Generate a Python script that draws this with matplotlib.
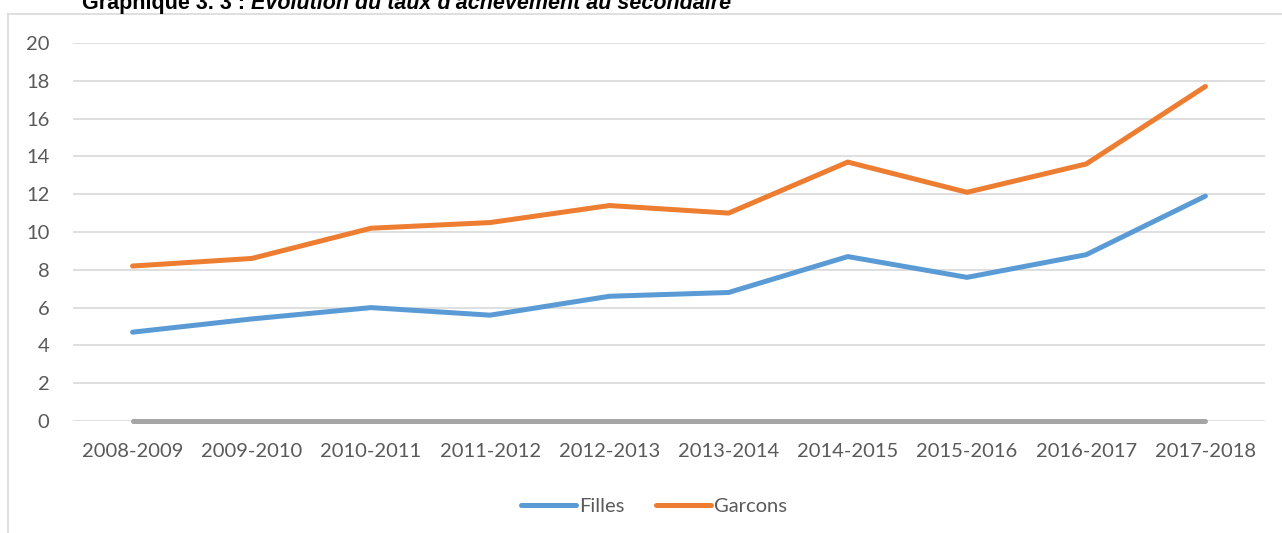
import matplotlib.pyplot as plt
from matplotlib.lines import Line2D

annees = ['2008-2009', '2009-2010', '2010-2011', '2011-2012', '2012-2013',
          '2013-2014', '2014-2015', '2015-2016', '2016-2017', '2017-2018']
filles = [4.7, 5.4, 6.0, 5.6, 6.6, 6.8, 8.7, 7.6, 8.8, 11.9]
garcons = [8.2, 8.6, 10.2, 10.5, 11.4, 11.0, 13.7, 12.1, 13.6, 17.7]
zero = [0] * len(annees)

W, H = 1282, 533
fig = plt.figure(figsize=(W / 100, H / 100), dpi=100)
ax = fig.add_axes([73 / W, 1 - 421 / H, (1265 - 73) / W, (421 - 43) / H])

x = range(len(annees))
ax.plot(x, zero, color='#a5a5a5', lw=3.6, solid_capstyle='round', zorder=2, clip_on=False)
ax.plot(x, filles, color='#5b9bd5', lw=3.6, solid_capstyle='round', label='Filles', zorder=3)
ax.plot(x, garcons, color='#ed7d31', lw=3.6, solid_capstyle='round', label='Garcons', zorder=3)

ax.set_xlim(-0.5, len(annees) - 0.5)
ax.set_ylim(0, 20)
ax.set_yticks(range(0, 21, 2))
ax.set_xticks(list(x))
ax.set_xticklabels(annees)
ax.grid(axis='y', color='#d9d9d9', lw=1.2)
ax.set_axisbelow(True)
for s in ax.spines.values():
    s.set_visible(False)
ax.tick_params(length=0, labelsize=14.5, colors='#595959')
ax.tick_params(axis='x', pad=16)
ax.tick_params(axis='y', pad=17)
for lab in ax.get_xticklabels() + ax.get_yticklabels():
    lab.set_fontfamily('Lato')

leg = fig.legend(loc='center', bbox_to_anchor=(654 / W, 1 - 506 / H), ncol=2, frameon=False,
                 handlelength=2.7, columnspacing=1.6, handletextpad=0.15,
                 prop={'family': 'Lato', 'size': 14.5})
for t in leg.get_texts():
    t.set_color('#595959')

# cadre du graphique
fig.add_artist(Line2D([8 / W, 8 / W], [0, 1 - 14 / H], color='#d9d9d9', lw=1.2))
fig.add_artist(Line2D([8 / W, 1], [1 - 14 / H, 1 - 14 / H], color='#d9d9d9', lw=1.2))

# titre coupé en haut
t1 = fig.text(82 / W, 1 - 9 / H, 'Graphique 3. 3 : ', fontsize=15.5, fontweight='bold',
              family='Liberation Sans', va='baseline')
fig.canvas.draw()
bb = t1.get_window_extent()
fig.text(bb.x1 / W, 1 - 9 / H, "Evolution du taux d'achèvement au secondaire", fontsize=15.5,
         fontweight='bold', style='italic', family='Liberation Sans', va='baseline')

fig.savefig('out.png', dpi=100)
